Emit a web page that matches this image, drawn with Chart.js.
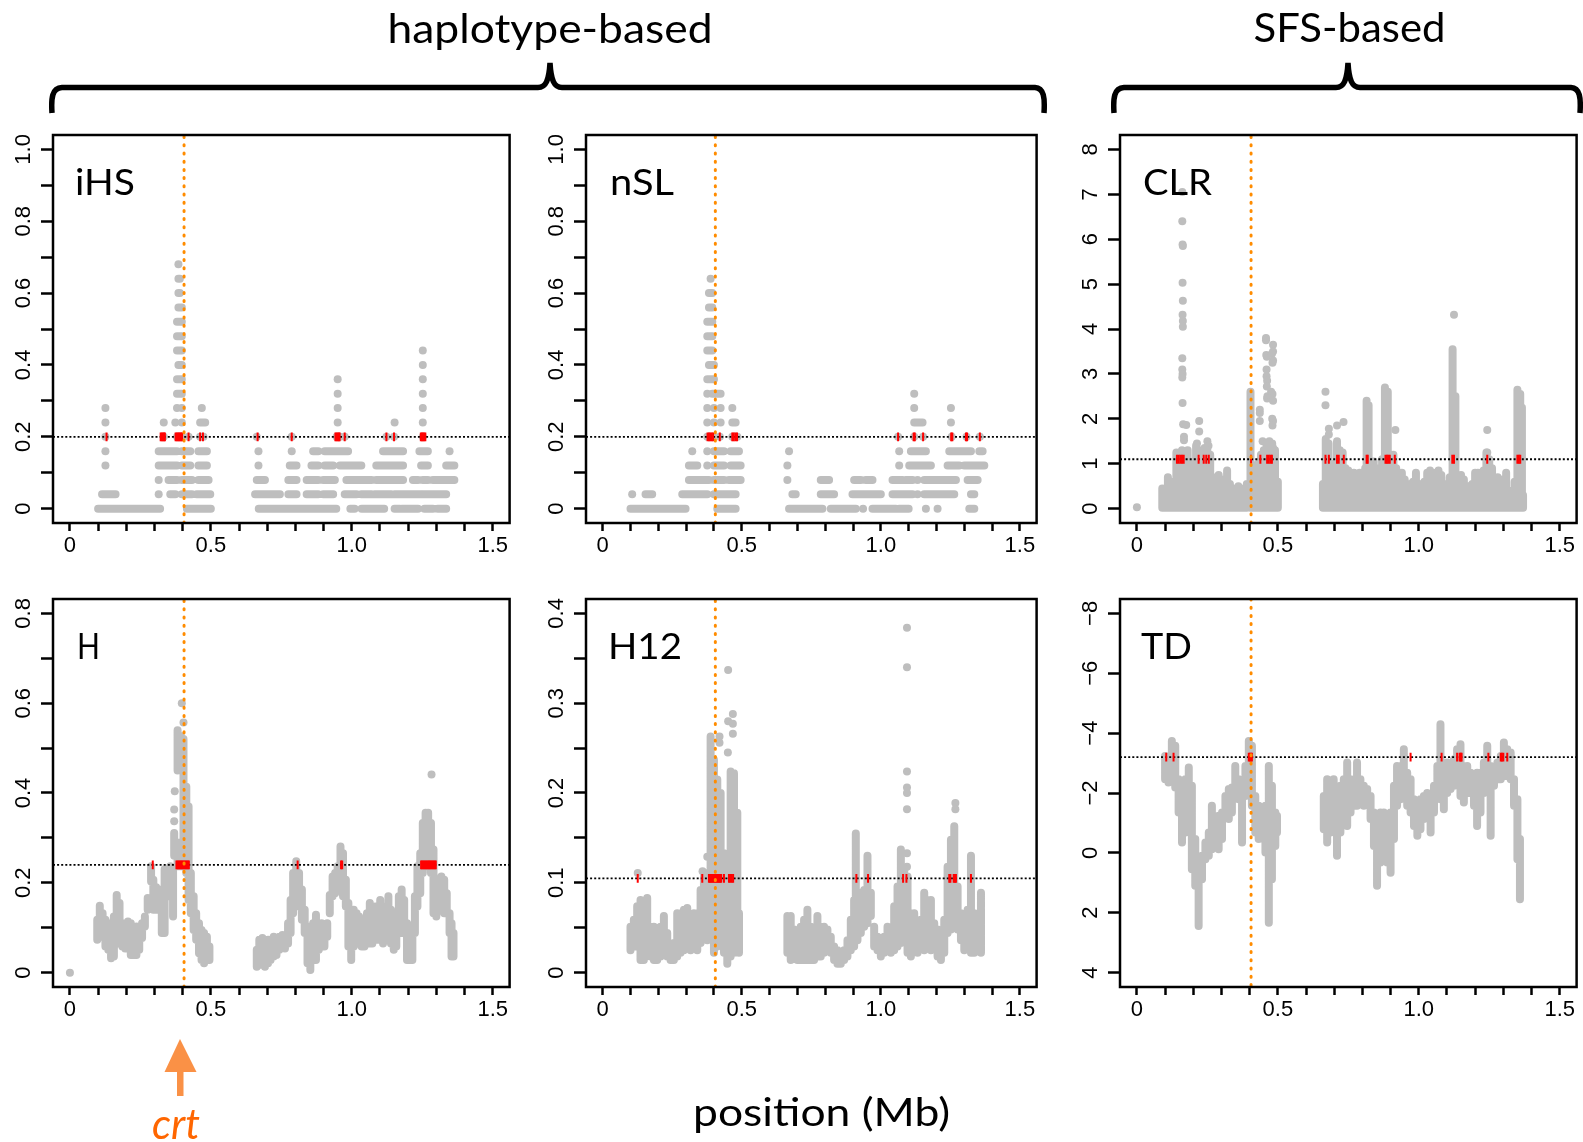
<!DOCTYPE html>
<html>
<head>
<meta charset="utf-8">
<script src="https://cdn.jsdelivr.net/npm/chart.js@4.4.1/dist/chart.umd.min.js"></script>
<style>
html, body { margin: 0; padding: 0; background: #fff; }
#page { position: relative; width: 1583px; height: 1142px; overflow: hidden; background: #fff; }
#page canvas { position: absolute; }
#overlay { position: absolute; left: 0; top: 0; pointer-events: none; }
#overlay text { font-family: Lato, "Open Sans", sans-serif; fill: #000; }
</style>
</head>
<body>
<div id="page">
  <canvas id="ihsChart"></canvas>
  <canvas id="nslChart"></canvas>
  <canvas id="clrChart"></canvas>
  <canvas id="hChart"></canvas>
  <canvas id="h12Chart"></canvas>
  <canvas id="tdChart"></canvas>
  <svg id="overlay" width="1583" height="1142">
    <text x="550" y="42.5" font-size="41" text-anchor="middle" textLength="325" lengthAdjust="spacingAndGlyphs">haplotype-based</text>
    <text x="1349.5" y="42" font-size="41" text-anchor="middle" textLength="192" lengthAdjust="spacingAndGlyphs">SFS-based</text>
    <path d="M 52 113 C 51 98, 52 88, 62 87.5 L 538 87.5 C 546 87.5, 549 80, 550 63 C 551 80, 554 87.5, 562 87.5 L 1035 87.5 C 1044 88, 1045 98, 1044 113" fill="none" stroke="#000" stroke-width="5.5"/>
    <path d="M 1114 113 C 1113 98, 1114 88, 1124 87.5 L 1336 87.5 C 1344 87.5, 1347 80, 1348 63 C 1349 80, 1352 87.5, 1360 87.5 L 1571 87.5 C 1580 88, 1581 98, 1580 113" fill="none" stroke="#000" stroke-width="5.5"/>
    <text x="75" y="195" font-size="37" textLength="60" lengthAdjust="spacingAndGlyphs">iHS</text>
    <text x="610" y="195" font-size="37" textLength="64" lengthAdjust="spacingAndGlyphs">nSL</text>
    <text x="1143" y="195" font-size="37" textLength="69" lengthAdjust="spacingAndGlyphs">CLR</text>
    <text x="77" y="659" font-size="37" textLength="23" lengthAdjust="spacingAndGlyphs">H</text>
    <text x="608" y="659" font-size="37" textLength="74" lengthAdjust="spacingAndGlyphs">H12</text>
    <text x="1141" y="659" font-size="37" textLength="51" lengthAdjust="spacingAndGlyphs">TD</text>
    <text x="693" y="1126" font-size="38" textLength="257" lengthAdjust="spacingAndGlyphs">position (Mb)</text>
    <polygon points="180,1039 164.5,1072 196.5,1072" fill="#fa9146"/>
    <rect x="177" y="1071" width="6.5" height="25" fill="#fa9146"/>
    <text x="152" y="1139" font-size="42" font-style="italic" style="fill:#ff6600" textLength="48" lengthAdjust="spacingAndGlyphs">crt</text>
  </svg>
</div>
<script>
const gray = '#bebebe';
const crtPos = 0.405;

const xTickVals = [0, 0.1, 0.2, 0.3, 0.4, 0.5, 0.6, 0.7, 0.8, 0.9, 1.0, 1.1, 1.2, 1.3, 1.4, 1.5];
const xTickText = ['0', '', '', '', '', '0.5', '', '', '', '', '1.0', '', '', '', '', '1.5'];

const fracTickVals = [0, 0.1, 0.2, 0.3, 0.4, 0.5, 0.6, 0.7, 0.8, 0.9, 1.0];
const fracTickText = ['0', '', '0.2', '', '0.4', '', '0.6', '', '0.8', '', '1.0'];
const clrTickVals = [0, 1, 2, 3, 4, 5, 6, 7, 8];
const clrTickText = ['0', '1', '2', '3', '4', '5', '6', '7', '8'];
const hTickVals = [0, 0.1, 0.2, 0.3, 0.4, 0.5, 0.6, 0.7, 0.8];
const hTickText = ['0', '', '0.2', '', '0.4', '', '0.6', '', '0.8'];
const h12TickVals = [0, 0.05, 0.1, 0.15, 0.2, 0.25, 0.3, 0.35, 0.4];
const h12TickText = ['0', '', '0.1', '', '0.2', '', '0.3', '', '0.4'];
const tdTickVals = [-8, -6, -4, -2, 0, 2, 4];
const tdTickText = ['\u22128', '\u22126', '\u22124', '\u22122', '0', '2', '4'];

// iHS: [level, [[from, to], ...]] in Mb
const ihsCut = 0.2;
const ihsRows = [
  [0,    [[0.10,0.32],[0.415,0.50],[0.67,0.945],[0.995,1.01],[1.035,1.115],[1.152,1.17],[1.178,1.235],[1.258,1.288],[1.305,1.335]]],
  [0.04, [[0.114,0.162],[0.315,0.315],[0.356,0.374],[0.397,0.433],[0.45,0.498],[0.657,0.745],[0.775,0.804],[0.84,0.881],[0.899,0.934],[0.975,1.017],[1.034,1.07],[1.081,1.14],[1.152,1.246],[1.252,1.335]]],
  [0.08, [[0.315,0.315],[0.35,0.38],[0.397,0.433],[0.456,0.492],[0.663,0.692],[0.775,0.804],[0.84,0.881],[0.899,0.94],[0.981,1.07],[1.087,1.182],[1.217,1.235],[1.252,1.27],[1.288,1.364]]],
  [0.12, [[0.126,0.126],[0.315,0.38],[0.397,0.427],[0.456,0.486],[0.669,0.669],[0.78,0.804],[0.857,0.881],[0.904,0.934],[0.958,1.034],[1.087,1.182],[1.246,1.27],[1.335,1.364]]],
  [0.16, [[0.126,0.126],[0.315,0.38],[0.397,0.427],[0.456,0.486],[0.669,0.669],[0.787,0.787],[0.863,0.881],[0.904,0.987],[1.111,1.182],[1.24,1.27],[1.347,1.347]]],
  [0.20, [[0.126,0.126],[0.333,0.333],[0.38,0.397],[0.421,0.421],[0.462,0.474],[0.663,0.663],[0.787,0.787],[0.946,0.958],[0.975,0.975],[1.123,1.123],[1.15,1.15],[1.252,1.252]]],
  [0.24, [[0.126,0.126],[0.333,0.333],[0.374,0.374],[0.397,0.397],[0.462,0.48],[0.95,0.95],[1.152,1.152],[1.252,1.252]]],
  [0.28, [[0.126,0.126],[0.38,0.38],[0.397,0.397],[0.468,0.468],[0.95,0.95],[1.252,1.252]]],
  [0.32, [[0.38,0.397],[0.95,0.95],[1.252,1.252]]],
  [0.36, [[0.38,0.397],[0.95,0.95],[1.252,1.252]]],
  [0.40, [[0.385,0.397],[1.252,1.252]]],
  [0.44, [[0.38,0.397],[1.252,1.252]]],
  [0.48, [[0.38,0.397]]],
  [0.52, [[0.38,0.397]]],
  [0.56, [[0.385,0.397]]],
  [0.60, [[0.385,0.39]]],
  [0.64, [[0.385,0.39]]],
  [0.68, [[0.385,0.385]]]
];
const ihsHits = [0.130, 0.322, 0.326, 0.330, 0.334, 0.337, 0.375, 0.379, 0.383, 0.387, 0.391, 0.395, 0.398, 0.421, 0.462, 0.472, 0.666, 0.787, 0.942, 0.946, 0.950, 0.954, 0.957, 0.975, 1.123, 1.150, 1.245, 1.249, 1.253, 1.257, 1.261];

// nSL
const nslCut = 0.2;
const nslRows = [
  [0,    [[0.10,0.298],[0.412,0.478],[0.67,0.79],[0.82,0.91],[0.936,0.936],[0.97,1.054],[1.066,1.10],[1.162,1.162],[1.204,1.204],[1.318,1.336]]],
  [0.04, [[0.106,0.106],[0.154,0.178],[0.286,0.376],[0.40,0.478],[0.682,0.694],[0.784,0.832],[0.898,1.0],[1.042,1.114],[1.132,1.132],[1.156,1.264],[1.324,1.336]]],
  [0.08, [[0.31,0.382],[0.40,0.436],[0.454,0.496],[0.664,0.664],[0.784,0.814],[0.904,0.928],[0.946,0.97],[1.042,1.078],[1.09,1.114],[1.132,1.132],[1.156,1.27],[1.312,1.348]]],
  [0.12, [[0.31,0.34],[0.376,0.376],[0.40,0.436],[0.46,0.496],[0.664,0.664],[1.066,1.066],[1.102,1.18],[1.24,1.282],[1.30,1.372]]],
  [0.16, [[0.322,0.322],[0.376,0.376],[0.40,0.436],[0.46,0.49],[0.67,0.67],[1.066,1.066],[1.108,1.162],[1.246,1.324],[1.354,1.366]]],
  [0.20, [[0.376,0.40],[0.421,0.421],[0.466,0.484],[1.062,1.062],[1.12,1.12],[1.152,1.152],[1.255,1.255],[1.308,1.308],[1.356,1.356]]],
  [0.24, [[0.376,0.376],[0.40,0.40],[0.424,0.424],[0.466,0.478],[1.12,1.15],[1.252,1.252]]],
  [0.28, [[0.376,0.376],[0.40,0.40],[0.424,0.424],[0.466,0.466],[1.12,1.12],[1.252,1.252]]],
  [0.32, [[0.376,0.376],[0.394,0.424],[1.12,1.12]]],
  [0.36, [[0.376,0.40]]],
  [0.40, [[0.382,0.40]]],
  [0.44, [[0.376,0.394]]],
  [0.48, [[0.376,0.394]]],
  [0.52, [[0.376,0.394]]],
  [0.56, [[0.382,0.394]]],
  [0.60, [[0.382,0.394]]],
  [0.64, [[0.388,0.388]]]
];
const nslHits = [0.377, 0.382, 0.387, 0.392, 0.397, 0.421, 0.466, 0.471, 0.477, 0.483, 1.062, 1.118, 1.122, 1.152, 1.253, 1.257, 1.306, 1.310, 1.356];

// CLR: columns [x, low, high] and single points [x, y]
const clrCut = 1.1;
const clrCols = [
  [0.09,0.02,0.45],[0.10,0.02,0.35],[0.11,0.02,0.70],[0.12,0.02,0.55],[0.13,0.02,0.60],[0.14,0.02,1.25],[0.15,0.02,1.10],[0.16,0.02,1.30],
  [0.17,0.02,1.00],[0.18,0.02,1.30],[0.19,0.02,0.95],[0.20,0.02,1.00],[0.21,0.02,1.40],[0.22,0.02,1.30],[0.23,0.02,1.10],[0.24,0.02,1.35],
  [0.25,0.02,1.30],[0.26,0.02,1.20],[0.27,0.02,0.60],[0.28,0.02,0.70],[0.29,0.02,0.75],[0.30,0.02,0.55],[0.31,0.02,0.65],[0.32,0.02,0.85],
  [0.33,0.02,0.55],[0.34,0.02,0.45],[0.35,0.02,0.40],[0.36,0.02,0.50],[0.37,0.02,0.45],[0.38,0.02,0.40],[0.39,0.02,0.55],[0.403,0.02,2.60],
  [0.41,0.02,0.70],[0.42,0.02,0.85],[0.43,0.02,1.00],[0.44,0.02,1.20],[0.45,0.02,1.30],[0.46,0.02,1.45],[0.47,0.02,1.50],[0.48,0.02,1.45],
  [0.49,0.02,1.30],[0.50,0.02,0.60],
  [0.66,0.02,0.55],[0.67,0.02,1.55],[0.68,0.02,1.45],[0.69,0.02,1.00],[0.70,0.02,0.85],[0.71,0.02,1.50],[0.72,0.02,1.30],[0.73,0.02,1.25],
  [0.74,0.02,0.90],[0.75,0.02,0.85],[0.76,0.02,0.70],[0.77,0.02,0.80],[0.78,0.02,0.75],[0.79,0.02,0.80],[0.80,0.02,0.70],[0.81,0.02,0.90],
  [0.815,0.02,2.40],[0.822,0.02,2.30],[0.83,0.02,0.70],[0.84,0.02,1.05],[0.85,0.02,0.85],[0.86,0.02,0.90],[0.87,0.02,1.10],[0.88,0.02,2.70],
  [0.89,0.02,2.60],[0.90,0.02,1.20],[0.91,0.02,1.20],[0.92,0.02,0.90],[0.93,0.02,0.70],[0.94,0.02,0.80],[0.95,0.02,0.65],[0.96,0.02,0.55],
  [0.97,0.02,0.45],[0.98,0.02,0.60],[0.99,0.02,0.80],[1.00,0.02,0.55],[1.01,0.02,0.45],[1.02,0.02,0.60],[1.03,0.02,0.80],[1.04,0.02,0.85],
  [1.05,0.02,0.55],[1.06,0.02,0.80],[1.07,0.02,0.85],[1.08,0.02,0.75],[1.09,0.02,0.50],[1.10,0.02,0.55],[1.11,0.02,0.70],[1.12,0.02,3.55],
  [1.13,0.02,2.50],[1.14,0.02,0.60],[1.15,0.02,0.75],[1.16,0.02,0.65],[1.17,0.02,0.50],[1.18,0.02,0.45],[1.19,0.02,0.55],[1.20,0.02,0.80],
  [1.21,0.02,0.80],[1.22,0.02,0.65],[1.23,0.02,0.85],[1.24,0.02,1.25],[1.25,0.02,1.10],[1.26,0.02,0.90],[1.27,0.02,0.55],[1.28,0.02,0.70],
  [1.29,0.02,0.65],[1.30,0.02,0.45],[1.31,0.02,0.80],[1.32,0.02,0.35],[1.33,0.02,0.40],[1.34,0.02,0.60],[1.35,0.02,2.65],[1.36,0.02,2.55],
  [1.366,0.02,2.25],[1.37,0.02,0.30]
];
const clrDots = [
  [0,0.03],
  [0.161,7.05],[0.161,6.40],[0.162,5.88],[0.163,5.85],[0.162,5.03],[0.163,4.63],[0.162,4.32],[0.163,4.18],[0.163,4.05],[0.161,3.35],
  [0.161,3.10],[0.162,3.00],[0.161,2.92],[0.162,2.35],[0.164,1.88],[0.175,1.86],[0.167,1.60],[0.167,1.52],
  [0.221,1.95],[0.221,1.72],[0.213,1.45],[0.250,1.50],[0.254,1.40],
  [0.436,2.20],[0.436,2.13],[0.436,1.95],[0.446,1.50],
  [0.458,3.80],[0.458,3.75],[0.459,3.42],[0.461,3.38],[0.460,3.10],[0.460,2.95],[0.462,2.85],[0.461,2.72],[0.463,2.50],[0.462,2.45],
  [0.483,3.65],[0.483,3.50],[0.479,3.45],[0.483,3.30],[0.481,3.25],[0.476,2.60],[0.481,2.55],[0.476,2.45],[0.483,2.40],[0.480,2.00],
  [0.483,1.95],[0.481,1.85],[0.476,1.40],[0.483,1.35],
  [0.669,2.60],[0.669,2.30],[0.681,1.78],[0.681,1.65],[0.710,1.85],[0.733,1.93],[0.917,1.75],
  [1.125,4.32],[1.243,1.75],[1.243,1.25]
];
const clrHits = [0.142, 0.148, 0.154, 0.160, 0.166, 0.219, 0.237, 0.246, 0.255, 0.405, 0.438, 0.462, 0.468, 0.474, 0.479, 0.669, 0.681, 0.710, 0.716, 0.734, 0.815, 0.819, 0.882, 0.887, 0.892, 0.897, 0.915, 1.119, 1.125, 1.243, 1.350, 1.355, 1.360];

// H
const hCut = 0.24;
const hCols = [
  [0.097,0.073,0.118],[0.106,0.088,0.149],[0.116,0.08,0.132],[0.126,0.058,0.118],[0.136,0.051,0.11],[0.146,0.032,0.08],[0.156,0.036,0.125],
  [0.166,0.088,0.173],[0.176,0.065,0.155],[0.186,0.058,0.11],[0.196,0.054,0.11],[0.206,0.058,0.114],[0.216,0.039,0.11],[0.226,0.039,0.103],
  [0.236,0.039,0.103],[0.246,0.051,0.099],[0.256,0.077,0.11],[0.266,0.103,0.125],[0.276,0.14,0.166],[0.286,0.145,0.166],[0.288,0.203,0.237],
  [0.296,0.14,0.207],[0.306,0.14,0.19],[0.316,0.151,0.185],[0.326,0.088,0.162],[0.336,0.088,0.23],[0.346,0.185,0.23],[0.356,0.17,0.237],
  [0.366,0.125,0.23],[0.370,0.26,0.311],[0.382,0.237,0.29],[0.382,0.45,0.54],[0.394,0.237,0.27],[0.394,0.455,0.527],[0.403,0.237,0.52],
  [0.413,0.222,0.414],[0.421,0.162,0.37],[0.429,0.132,0.222],[0.439,0.095,0.17],[0.448,0.073,0.132],[0.458,0.043,0.11],[0.467,0.028,0.095],
  [0.476,0.021,0.088],[0.486,0.051,0.08],[0.495,0.028,0.058],
  [0.663,0.013,0.051],[0.672,0.021,0.073],[0.683,0.017,0.077],[0.692,0.013,0.069],[0.703,0.021,0.073],[0.712,0.028,0.073],[0.723,0.036,0.08],
  [0.733,0.039,0.073],[0.743,0.051,0.08],[0.754,0.058,0.084],[0.763,0.054,0.08],[0.774,0.065,0.11],[0.783,0.088,0.162],[0.792,0.132,0.222],
  [0.803,0.162,0.248],[0.813,0.147,0.222],[0.823,0.118,0.185],[0.833,0.088,0.14],[0.843,0.021,0.103],[0.853,0.006,0.088],[0.863,0.036,0.11],
  [0.873,0.028,0.129],[0.883,0.051,0.103],[0.893,0.065,0.11],[0.903,0.058,0.103],[0.913,0.08,0.11],[0.922,0.132,0.173],[0.932,0.17,0.214],
  [0.941,0.177,0.222],[0.950,0.185,0.237],[0.960,0.192,0.281],[0.969,0.17,0.266],[0.979,0.147,0.207],[0.988,0.058,0.155],[0.998,0.028,0.132],
  [1.007,0.058,0.14],[1.017,0.073,0.132],[1.026,0.065,0.125],[1.035,0.058,0.11],[1.045,0.058,0.103],[1.054,0.073,0.132],[1.064,0.065,0.155],
  [1.073,0.065,0.132],[1.083,0.073,0.147],[1.092,0.073,0.132],[1.101,0.073,0.162],[1.111,0.065,0.125],[1.120,0.08,0.147],[1.130,0.073,0.17],
  [1.139,0.065,0.14],[1.149,0.051,0.132],[1.158,0.058,0.125],[1.167,0.088,0.17],[1.177,0.088,0.185],[1.186,0.11,0.162],[1.196,0.028,0.11],
  [1.205,0.028,0.088],[1.215,0.028,0.095],[1.224,0.088,0.17],[1.233,0.147,0.237],[1.243,0.177,0.266],[1.252,0.222,0.333],[1.262,0.244,0.356],
  [1.271,0.237,0.356],[1.281,0.222,0.333],[1.290,0.132,0.274],[1.300,0.125,0.207],[1.309,0.14,0.207],[1.318,0.155,0.214],[1.328,0.132,0.207],
  [1.337,0.132,0.177],[1.347,0.088,0.132],[1.354,0.036,0.11],[1.361,0.036,0.088]
];
const hDots = [[0,0],[0.370,0.337],[0.370,0.363],[0.372,0.404],[0.397,0.60],[0.403,0.557],[1.283,0.441]];
const hHits = [0.294, 0.378, 0.382, 0.386, 0.390, 0.394, 0.398, 0.402, 0.406, 0.410, 0.414, 0.418, 0.422, 0.808, 0.962, 0.966, 1.246, 1.250, 1.254, 1.258, 1.262, 1.266, 1.270, 1.274, 1.278, 1.282, 1.286, 1.290, 1.294, 1.298];

// H12
const h12Cut = 0.105;
const h12Cols = [
  [0.10,0.025,0.051],[0.112,0.029,0.059],[0.124,0.029,0.074],[0.136,0.014,0.081],[0.148,0.014,0.066],[0.16,0.022,0.083],[0.172,0.018,0.051],
  [0.184,0.014,0.051],[0.196,0.014,0.048],[0.208,0.018,0.051],[0.22,0.022,0.063],[0.232,0.018,0.044],[0.244,0.014,0.029],[0.256,0.014,0.033],
  [0.268,0.018,0.066],[0.28,0.022,0.066],[0.292,0.025,0.07],[0.304,0.029,0.072],[0.316,0.025,0.063],[0.328,0.029,0.066],[0.34,0.025,0.066],
  [0.352,0.033,0.092],[0.364,0.051,0.107],[0.376,0.036,0.111],[0.388,0.066,0.263],[0.40,0.022,0.237],[0.412,0.029,0.215],[0.424,0.036,0.20],
  [0.436,0.022,0.133],[0.448,0.01,0.111],[0.46,0.018,0.224],[0.472,0.022,0.222],[0.484,0.029,0.178],[0.49,0.022,0.066],
  [0.664,0.022,0.063],[0.676,0.014,0.063],[0.688,0.018,0.048],[0.70,0.014,0.044],[0.712,0.014,0.051],[0.724,0.014,0.059],[0.736,0.014,0.07],
  [0.748,0.014,0.051],[0.76,0.014,0.044],[0.772,0.018,0.063],[0.784,0.018,0.051],[0.796,0.022,0.051],[0.808,0.029,0.048],[0.82,0.022,0.04],
  [0.832,0.014,0.029],[0.844,0.01,0.025],[0.856,0.01,0.022],[0.868,0.014,0.025],[0.88,0.018,0.036],[0.892,0.025,0.059],[0.904,0.029,0.081],
  [0.91,0.06,0.155],[0.916,0.036,0.074],[0.928,0.044,0.089],[0.94,0.051,0.092],[0.952,0.055,0.13],[0.964,0.063,0.089],[0.976,0.029,0.051],
  [0.988,0.025,0.04],[1.0,0.018,0.036],[1.012,0.022,0.04],[1.024,0.025,0.051],[1.036,0.022,0.04],[1.048,0.025,0.074],[1.06,0.029,0.096],
  [1.072,0.033,0.137],[1.084,0.036,0.115],[1.096,0.022,0.107],[1.108,0.018,0.066],[1.12,0.025,0.066],[1.132,0.022,0.051],[1.144,0.029,0.059],
  [1.156,0.025,0.089],[1.168,0.036,0.081],[1.18,0.025,0.081],[1.192,0.029,0.055],[1.204,0.018,0.048],[1.216,0.014,0.044],[1.228,0.022,0.059],
  [1.24,0.044,0.118],[1.252,0.048,0.148],[1.264,0.059,0.163],[1.276,0.048,0.096],[1.288,0.036,0.066],[1.30,0.025,0.051],[1.312,0.029,0.07],
  [1.324,0.022,0.13],[1.336,0.022,0.066],[1.36,0.022,0.089]
];
const h12Dots = [
  [0.126,0.111],[0.359,0.113],[0.376,0.129],[0.42,0.263],[0.42,0.256],[0.451,0.337],[0.451,0.28],[0.468,0.288],[0.468,0.277],
  [0.468,0.266],[0.45,0.245],[1.094,0.384],[1.094,0.34],[1.094,0.224],[1.094,0.206],[1.094,0.20],[1.094,0.182],[1.094,0.133],
  [1.094,0.118],[1.268,0.189],[1.268,0.182]
];
const h12Hits = [0.126, 0.358, 0.382, 0.386, 0.390, 0.394, 0.398, 0.402, 0.406, 0.410, 0.414, 0.418, 0.422, 0.426, 0.436, 0.454, 0.459, 0.464, 0.469, 0.912, 0.954, 1.080, 1.092, 1.246, 1.250, 1.262, 1.266, 1.270, 1.324];

// TD (axis reversed)
const tdCut = -3.2;
const tdCols = [
  [0.10,-3.24,-2.46],[0.112,-3.02,-2.35],[0.124,-3.74,-2.46],[0.136,-3.58,-2.18],[0.148,-2.46,-1.35],[0.16,-2.24,-0.35],[0.172,-2.46,-0.68],
  [0.184,-2.85,-1.46],[0.195,-2.24,0.55],[0.207,-0.46,1.1],[0.219,0.66,2.44],[0.231,0.1,0.88],[0.243,-0.35,0.21],[0.255,-0.68,0.1],
  [0.266,-1.57,-0.12],[0.278,-1.13,-0.46],[0.29,-1.24,-0.12],[0.302,-1.35,-0.46],[0.314,-1.9,-1.35],[0.326,-2.13,-1.13],[0.337,-2.18,-1.35],
  [0.349,-2.9,-2.0],[0.361,-2.46,-1.79],[0.373,-2.13,-0.35],[0.385,-2.9,-1.9],[0.397,-3.74,-2.46],[0.408,-3.58,-1.57],[0.42,-1.9,-0.68],
  [0.432,-1.57,-0.46],[0.444,-1.46,-0.68],[0.456,-1.57,-0.01],[0.468,-2.9,2.33],[0.479,-2.24,0.88],[0.491,-1.35,-0.23],[0.497,-1.24,-0.68],
  [0.663,-1.9,-0.79],[0.675,-2.46,-0.35],[0.687,-2.13,-0.68],[0.698,-2.46,-1.13],[0.71,-1.9,0.1],[0.722,-2.24,-0.68],[0.734,-2.46,-1.35],
  [0.746,-3.02,-0.9],[0.758,-2.46,-1.35],[0.769,-2.13,-1.57],[0.781,-3.02,-1.57],[0.793,-2.46,-1.79],[0.805,-2.24,-1.57],[0.817,-2.13,-1.68],
  [0.829,-1.9,-1.13],[0.841,-1.35,-0.23],[0.852,-1.13,1.1],[0.864,-1.35,0.32],[0.876,-1.35,-0.01],[0.888,-1.13,0.32],[0.90,-1.35,0.66],
  [0.912,-2.24,-0.46],[0.923,-2.9,-1.57],[0.935,-2.9,-1.79],[0.947,-3.46,-2.0],[0.959,-2.68,-1.57],[0.971,-2.46,-1.35],[0.983,-1.79,-0.9],
  [0.995,-1.57,-0.57],[1.006,-1.79,-0.79],[1.018,-1.9,-1.13],[1.03,-2.0,-1.35],[1.042,-1.79,-0.68],[1.054,-2.24,-1.35],[1.066,-2.9,-1.9],
  [1.077,-4.3,-1.79],[1.089,-2.9,-1.46],[1.101,-3.02,-2.0],[1.113,-2.9,-2.13],[1.125,-3.13,-2.24],[1.136,-3.46,-2.46],[1.148,-3.63,-1.9],
  [1.16,-2.9,-1.68],[1.172,-2.9,-2.0],[1.184,-2.68,-2.0],[1.196,-2.46,-1.57],[1.207,-2.68,-0.9],[1.219,-2.68,-1.35],[1.231,-3.02,-2.0],
  [1.243,-3.58,-2.46],[1.255,-2.9,-0.57],[1.267,-2.8,-2.24],[1.279,-3.02,-2.46],[1.291,-3.24,-2.46],[1.302,-3.69,-2.57],[1.314,-3.46,-2.57],
  [1.326,-3.35,-2.46],[1.338,-2.46,-1.57],[1.35,-1.79,0.21],[1.359,-0.46,1.55]
];
const tdDots = [];
const tdHits = [0.104, 0.130, 0.397, 0.401, 0.405, 0.408, 0.971, 1.081, 1.136, 1.145, 1.149, 1.152, 1.247, 1.291, 1.295, 1.300, 1.314];

function rowsToMarks(rows) {
  const segs = [];
  const dots = [];
  rows.forEach(([lvl, runs]) => {
    runs.forEach(([a, b]) => {
      if (a === b) dots.push({x: a, y: lvl});
      else segs.push({x: a, y: lvl}, {x: b, y: lvl}, {x: b, y: null});
    });
  });
  return {segs, dots};
}

function colsToMarks(cols, pts) {
  const segs = [];
  cols.forEach(([x, a, b]) => segs.push({x, y: a}, {x, y: b}, {x, y: null}));
  return {segs, dots: pts.map(([x, y]) => ({x, y}))};
}

const boxPlugin = {
  id: 'box',
  afterDatasetsDraw(chart) {
    const {ctx, chartArea: a} = chart;
    ctx.save();
    ctx.lineWidth = 2.5;
    ctx.strokeStyle = '#000';
    ctx.strokeRect(a.left, a.top, a.right - a.left, a.bottom - a.top);
    ctx.restore();
  }
};

const tickFont = {family: '"Liberation Sans", Arial, sans-serif', size: 22};

function makePanel(id, box, p) {
  const canvas = document.getElementById(id);
  const w = box.R - box.L + 58;
  const h = box.B - box.T + 50;
  canvas.width = w;
  canvas.height = h;
  canvas.style.left = (box.L - 52) + 'px';
  canvas.style.top = (box.T - 8) + 'px';
  canvas.style.width = w + 'px';
  canvas.style.height = h + 'px';

  const datasets = [
    {
      data: [{x: crtPos, y: p.yMin}, {x: crtPos, y: p.yMax}],
      borderColor: '#ff8c00', borderWidth: 3, borderDash: [1, 7.2], borderCapStyle: 'round',
      pointRadius: 0, order: 0
    },
    {
      data: p.hits.map(x => ({x, y: p.cut})),
      showLine: false, pointStyle: 'line', pointRotation: 90, pointRadius: 4.4,
      pointBorderColor: '#ff0000', pointBorderWidth: 2, borderColor: '#ff0000', order: 1
    },
    {
      data: [{x: -0.06, y: p.cut}, {x: 1.56, y: p.cut}],
      borderColor: '#000', borderWidth: 1.8, borderDash: [2, 2.1], pointRadius: 0, order: 2
    },
    {
      data: p.marks.segs,
      borderColor: gray, borderWidth: 8, borderCapStyle: 'round', borderJoinStyle: 'round',
      pointRadius: 0, spanGaps: false, order: 3
    },
    {
      data: p.marks.dots,
      showLine: false, pointRadius: 4, pointBackgroundColor: gray, pointBorderWidth: 0,
      borderColor: gray, order: 4
    }
  ];

  return new Chart(canvas, {
    type: 'line',
    data: {datasets},
    options: {
      responsive: false,
      animation: false,
      events: [],
      layout: {padding: {top: 8, right: 6, left: 0, bottom: 0}},
      plugins: {legend: {display: false}, tooltip: {enabled: false}},
      elements: {line: {tension: 0}},
      scales: {
        x: {
          type: 'linear', min: -0.06, max: 1.56,
          afterBuildTicks: (s) => { s.ticks = xTickVals.map(v => ({value: v})); },
          afterFit: (s) => { s.height = 42; s.paddingLeft = 0; s.paddingRight = 0; },
          ticks: {
            autoSkip: false, minRotation: 0, maxRotation: 0, padding: 2, color: '#000', font: tickFont,
            callback: (v, i) => xTickText[i]
          },
          grid: {drawOnChartArea: false, drawTicks: true, tickLength: 8, tickWidth: 2.5, tickColor: '#000'},
          border: {display: false}
        },
        y: {
          type: 'linear', min: p.yMin, max: p.yMax, reverse: !!p.reverse,
          afterBuildTicks: (s) => { s.ticks = p.yTicks.map(v => ({value: v})); },
          afterFit: (s) => { s.width = 52; s.paddingTop = 0; s.paddingBottom = 0; },
          ticks: {
            autoSkip: false, minRotation: 90, maxRotation: 90, crossAlign: 'center', padding: p.labelPad,
            color: '#000', font: tickFont,
            callback: (v, i) => p.yText[i]
          },
          grid: {drawOnChartArea: false, drawTicks: true, tickLength: 12, tickWidth: 2.5, tickColor: '#000'},
          border: {display: false}
        }
      }
    },
    plugins: [boxPlugin]
  });
}

const colBoxes = [{L: 53, R: 510}, {L: 586, R: 1037}, {L: 1120, R: 1577}];
const rowBoxes = [{T: 135, B: 523}, {T: 599, B: 987}];
const boxOf = (c, r) => ({L: colBoxes[c].L, R: colBoxes[c].R, T: rowBoxes[r].T, B: rowBoxes[r].B});

makePanel('ihsChart', boxOf(0, 0), {
  yMin: -0.04, yMax: 1.04, yTicks: fracTickVals, yText: fracTickText, labelPad: 1.7,
  cut: ihsCut, hits: ihsHits, marks: rowsToMarks(ihsRows)
});
makePanel('nslChart', boxOf(1, 0), {
  yMin: -0.04, yMax: 1.04, yTicks: fracTickVals, yText: fracTickText, labelPad: 1.7,
  cut: nslCut, hits: nslHits, marks: rowsToMarks(nslRows)
});
makePanel('clrChart', boxOf(2, 0), {
  yMin: -0.32, yMax: 8.32, yTicks: clrTickVals, yText: clrTickText, labelPad: 10.9,
  cut: clrCut, hits: clrHits, marks: colsToMarks(clrCols, clrDots)
});
makePanel('hChart', boxOf(0, 1), {
  yMin: -0.032, yMax: 0.832, yTicks: hTickVals, yText: hTickText, labelPad: 1.7,
  cut: hCut, hits: hHits, marks: colsToMarks(hCols, hDots)
});
makePanel('h12Chart', boxOf(1, 1), {
  yMin: -0.016, yMax: 0.416, yTicks: h12TickVals, yText: h12TickText, labelPad: 1.7,
  cut: h12Cut, hits: h12Hits, marks: colsToMarks(h12Cols, h12Dots)
});
makePanel('tdChart', boxOf(2, 1), {
  yMin: -8.48, yMax: 4.48, reverse: true, yTicks: tdTickVals, yText: tdTickText, labelPad: 4.4,
  cut: tdCut, hits: tdHits, marks: colsToMarks(tdCols, tdDots)
});
</script>
</body>
</html>
